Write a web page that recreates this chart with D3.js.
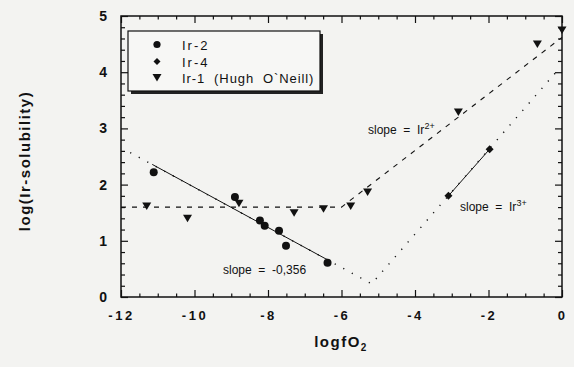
<!DOCTYPE html>
<html><head><meta charset="utf-8">
<script src="https://cdn.jsdelivr.net/npm/d3@7"></script>
<style>
html,body{margin:0;padding:0;background:#f3f3f1;}
svg{display:block;font-family:"Liberation Sans",Arial,Helvetica,sans-serif;}
</style></head><body>
<svg id="c" width="574" height="367"></svg>
<script>
// ---- data ----
const ir2X = [-11.11, -8.90, -8.22, -8.09, -7.70, -7.51, -6.38];
const ir2Y = [2.22, 1.78, 1.36, 1.27, 1.18, 0.91, 0.61];
const ir4X = [-3.09, -1.97];
const ir4Y = [1.80, 2.63];
const ir1X = [-11.30, -10.19, -8.79, -7.29, -6.49, -5.75, -5.29, -2.82, -0.67, 0.0];
const ir1Y = [1.62, 1.40, 1.67, 1.50, 1.57, 1.62, 1.87, 3.29, 4.50, 4.75];
// fit line Ir-2 (solid) and its dotted extension
const fitSolidX = [-11.15, -6.40];
const fitSlope = -0.356, fitIntercept = -1.61;
// dotted V line (Ir-2 extension & Ir3+ slope)
const dotX = [-11.75, -5.18, -0.15];
const dotY = [2.57, 0.234, 4.01];
// dashed line (Ir2+ slope)
const dashX = [-12, -6.0, 0];
const dashY = [1.60, 1.60, 4.62];
const xMajor = [-12, -10, -8, -6, -4, -2, 0];
const yMajor = [0, 1, 2, 3, 4, 5];
const legendLabels = ["Ir-2", "Ir-4", "Ir-1  (Hugh  O`Neill)"];

const svg = d3.select("#c");
const x = d3.scaleLinear().domain([-12, 0]).range([121, 562]);
const y = d3.scaleLinear().domain([0, 5]).range([297, 16]);
const ink = "#111";

// frame
svg.append("rect").attr("x", x(-12)).attr("y", y(5)).attr("width", x(0) - x(-12)).attr("height", y(0) - y(5))
  .attr("fill", "none").attr("stroke", ink).attr("stroke-width", 1.5);

const xMinor = d3.range(-12, 0.01, 0.5).filter(v => !xMajor.includes(v));
const yMinor = d3.range(0, 5.01, 0.2).map(v => +v.toFixed(1)).filter(v => !yMajor.includes(v));

function styleAxis(g) {
  g.select(".domain").remove();
  g.selectAll("line").attr("stroke", ink).attr("stroke-width", 1.2);
}
// bottom
svg.append("g").attr("transform", `translate(0,${y(0)})`)
  .call(d3.axisBottom(x).tickValues(xMinor).tickSize(-3.5).tickFormat("")).call(styleAxis);
svg.append("g").attr("transform", `translate(0,${y(0)})`)
  .call(d3.axisBottom(x).tickValues(xMajor).tickSize(-7).tickPadding(14).tickFormat(d3.format("d"))).call(styleAxis)
  .selectAll("text").attr("font-size", 13).attr("font-weight", "bold").attr("fill", ink)
  .attr("letter-spacing", "2.5px").text(d => String(d));
// top
svg.append("g").attr("transform", `translate(0,${y(5)})`)
  .call(d3.axisTop(x).tickValues(xMinor).tickSize(-3.5).tickFormat("")).call(styleAxis);
svg.append("g").attr("transform", `translate(0,${y(5)})`)
  .call(d3.axisTop(x).tickValues(xMajor).tickSize(-7).tickFormat("")).call(styleAxis);
// left
svg.append("g").attr("transform", `translate(${x(-12)},0)`)
  .call(d3.axisLeft(y).tickValues(yMinor).tickSize(-4).tickFormat("")).call(styleAxis);
svg.append("g").attr("transform", `translate(${x(-12)},0)`)
  .call(d3.axisLeft(y).tickValues(yMajor).tickSize(-7).tickPadding(14).tickFormat(d3.format("d"))).call(styleAxis)
  .selectAll("text").attr("font-size", 14).attr("font-weight", "bold").attr("fill", ink);
// right
svg.append("g").attr("transform", `translate(${x(0)},0)`)
  .call(d3.axisRight(y).tickValues(yMinor).tickSize(-4).tickFormat("")).call(styleAxis);
svg.append("g").attr("transform", `translate(${x(0)},0)`)
  .call(d3.axisRight(y).tickValues(yMajor).tickSize(-7).tickFormat("")).call(styleAxis);

// axis titles
const xt = svg.append("text").attr("x", 341).attr("y", 347).attr("text-anchor", "middle")
  .attr("font-size", 15).attr("font-weight", "bold").attr("letter-spacing", "1.5px").attr("fill", ink);
xt.append("tspan").text("logfO");
xt.append("tspan").text("2").attr("font-size", 10).attr("dy", 4);
svg.append("text").attr("transform", "translate(30,161) rotate(-90)").attr("text-anchor", "middle")
  .attr("font-size", 15).attr("font-weight", "bold").attr("letter-spacing", "1.5px").attr("fill", ink)
  .text("log(Ir-solubility)");

// lines
const line = d3.line().x(d => x(d[0])).y(d => y(d[1]));
svg.append("path").datum(dashX.map((v, i) => [v, dashY[i]])).attr("d", line)
  .attr("fill", "none").attr("stroke", ink).attr("stroke-width", 1.1).attr("stroke-dasharray", "5,6");
svg.append("path").datum(dotX.map((v, i) => [v, dotY[i]])).attr("d", line)
  .attr("fill", "none").attr("stroke", ink).attr("stroke-width", 1.4).attr("stroke-dasharray", "1.2,8.5");
svg.append("path").datum(fitSolidX.map(v => [v, fitIntercept + fitSlope * v])).attr("d", line)
  .attr("fill", "none").attr("stroke", ink).attr("stroke-width", 1);
svg.append("path").datum(ir4X.map((v, i) => [v, ir4Y[i]])).attr("d", line)
  .attr("fill", "none").attr("stroke", ink).attr("stroke-width", 1);

// symbols
const triDown = "M-4.5,-3.5L4.5,-3.5L0,4Z";
const diamond = "M0,-4L4,0L0,4L-4,0Z";
svg.append("g").selectAll("circle").data(ir2X.map((v, i) => [v, ir2Y[i]])).join("circle")
  .attr("cx", d => x(d[0])).attr("cy", d => y(d[1])).attr("r", 4).attr("fill", ink);
svg.append("g").selectAll("path").data(ir4X.map((v, i) => [v, ir4Y[i]])).join("path")
  .attr("d", diamond).attr("transform", d => `translate(${x(d[0])},${y(d[1])})`).attr("fill", ink);
svg.append("g").selectAll("path").data(ir1X.map((v, i) => [v, ir1Y[i]])).join("path")
  .attr("d", triDown).attr("transform", d => `translate(${x(d[0])},${y(d[1])})`).attr("fill", ink);

// annotations
function supLabel(tx, ty, base, sup) {
  const t = svg.append("text").attr("x", tx).attr("y", ty).attr("font-size", 12).attr("fill", ink)
    .style("white-space", "pre");
  t.append("tspan").text(base);
  if (sup) t.append("tspan").text(sup).attr("font-size", 9).attr("dy", -5);
}
supLabel(368, 134, "slope  =  Ir", "2+");
supLabel(460, 211, "slope  =  Ir", "3+");
supLabel(223, 274, "slope  =  -0,356", null);

// legend
const lg = svg.append("g");
lg.append("rect").attr("x", 131).attr("y", 34).attr("width", 192).attr("height", 60).attr("fill", "#222");
lg.append("rect").attr("x", 128).attr("y", 31).attr("width", 192).attr("height", 60)
  .attr("fill", "#f7f7f5").attr("stroke", ink).attr("stroke-width", 1.2);
const ly = [44.5, 61.5, 77.5];
lg.append("circle").attr("cx", 157).attr("cy", ly[0]).attr("r", 3.6).attr("fill", ink);
lg.append("path").attr("d", "M0,-3.5L3.5,0L0,3.5L-3.5,0Z").attr("transform", `translate(157,${ly[1]})`).attr("fill", ink);
lg.append("path").attr("d", triDown).attr("transform", `translate(157,${ly[2]})`).attr("fill", ink);
legendLabels.forEach((s, i) => {
  lg.append("text").attr("x", 182).attr("y", ly[i] + 5).attr("font-size", 13)
    .attr("letter-spacing", i < 2 ? "2px" : "0.9px")
    .attr("fill", ink).style("white-space", "pre").text(s);
});
</script>
</body></html>
